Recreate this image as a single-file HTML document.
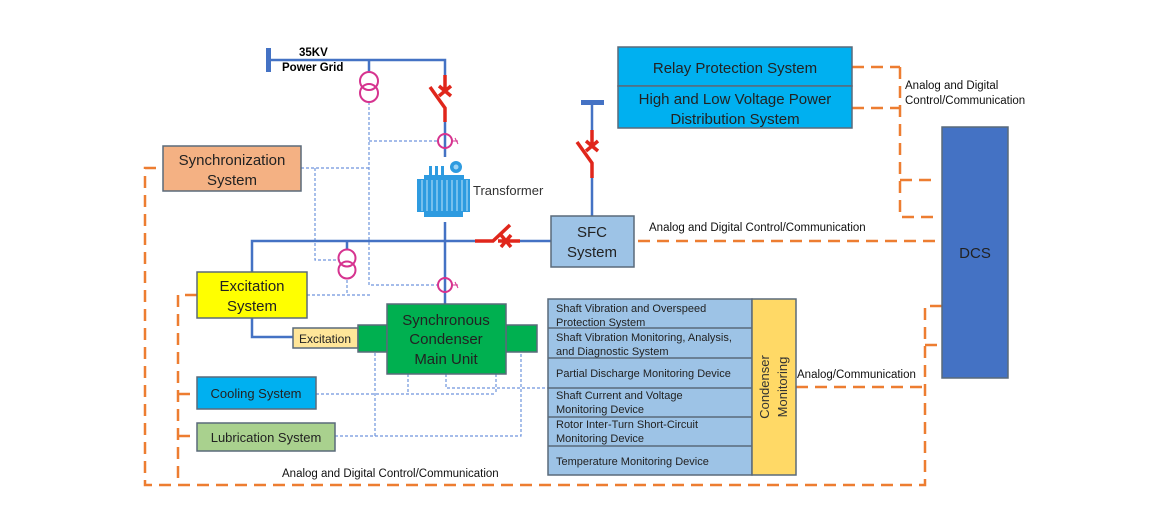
<!DOCTYPE html>
<html><head><style>
body{margin:0;background:#fff;}
svg{display:block;font-family:"Liberation Sans",sans-serif;}
</style></head><body>
<svg width="1162" height="513" viewBox="0 0 1162 513" xmlns="http://www.w3.org/2000/svg">
<rect width="1162" height="513" fill="#fff"/>
<!-- blue dashed signal lines -->
<g stroke="#6f95dd" stroke-width="1.2" stroke-dasharray="3,2" fill="none">
<path d="M301 168 H369"/>
<path d="M369 102 V285 H438"/>
<path d="M369 141 H438"/>
<path d="M315 168 V260 H340"/>
<path d="M307 295 H372"/>
<path d="M347 280 V295"/>
<path d="M316 394 H496"/>
<path d="M408 374 V394"/><path d="M496 374 V394"/>
<path d="M446 374 V388 H548"/>
<path d="M335 436 H375 V352"/>
<path d="M375 436 H521 V352"/>
</g>
<!-- orange dashed -->
<g stroke="#ED7D31" stroke-width="2.5" stroke-dasharray="12,7" fill="none">
<path d="M852 67 H900"/><path d="M852 108 H900"/>
<path d="M900 67 V217 H940"/><path d="M900 180 H936"/>
<path d="M638 241 H940"/>
<path d="M796 387 H925"/>
<path d="M942 306 H925 V485 H145 V168 H163"/>
<path d="M925 345 H942"/>
<path d="M197 295 H178 V485"/>
<path d="M178 394 H197"/><path d="M178 436 H197"/>
</g>
<!-- power lines blue -->
<g stroke="#4472C4" stroke-width="2.5" fill="none">
<path d="M268 60 H445 V75"/>
<path d="M369 60 V71"/>
<path d="M445 122 V157"/>
<path d="M445 222 V304"/>
<path d="M252 272 V241 H475"/>
<path d="M520 241 H551"/>
<path d="M347 241 V250"/>
<path d="M252 318 V337 H293"/>
<path d="M592 103 V130"/><path d="M592 178 V216"/>
</g>
<rect x="266" y="48" width="5" height="24" fill="#4472C4"/>
<rect x="581" y="100" width="23" height="5" fill="#4472C4"/>
<text x="299" y="56" font-size="11.5" font-weight="bold">35KV</text>
<text x="282" y="71" font-size="11.5" font-weight="bold">Power Grid</text>
<!-- PTs -->
<g stroke="#D6338F" stroke-width="2" fill="none">
<circle cx="369" cy="81" r="9"/><circle cx="369" cy="93" r="9"/>
<circle cx="347" cy="258" r="8.5"/><circle cx="347" cy="270" r="8.5"/>
<circle cx="445" cy="141" r="7"/><circle cx="445" cy="285" r="7"/>
<path d="M452 141 h6 M455 138 l3 6 M452 285 h6 M455 282 l3 6" stroke-width="1"/>
</g>
<!-- breakers red -->
<g stroke="#E0261B" stroke-width="3.5" fill="none">
<path d="M445 75 V93 M439 86 l12 10 M451 86 l-12 10"/>
<path d="M430 87 L445 108 V122"/>
<path d="M592 130 V148 M586 141 l12 10 M598 141 l-12 10"/>
<path d="M577 142 L592 163 V178"/>
<path d="M475 241 H493 L510 225 M520 241 H498 M501 235 l10 12 M511 235 l-10 12"/>
</g>
<!-- transformer -->
<g fill="#2E9BE0">
<rect x="429" y="166" width="3" height="9"/><rect x="435" y="166" width="3" height="9"/><rect x="441" y="166" width="3" height="9"/>
<circle cx="456" cy="167" r="6"/>
<rect x="424" y="175" width="40" height="4"/>
<rect x="417" y="179" width="53" height="33"/>
<rect x="424" y="212" width="39" height="5"/>
</g>
<circle cx="456" cy="167" r="2.5" fill="#9fd4f5"/>
<g stroke="#bfe3fa" stroke-width="1">
<path d="M422 180V211M427 180V211M432 180V211M437 180V211M442 180V211M447 180V211M452 180V211M457 180V211M462 180V211M467 180V211"/>
</g>
<text x="473" y="195" font-size="13" fill="#333">Transformer</text>
<!-- boxes -->
<g stroke="#5a6a7a" stroke-width="1.5">
<rect x="163" y="146" width="138" height="45" fill="#F4B183"/>
<rect x="197" y="272" width="110" height="46" fill="#FFFF00"/>
<rect x="293" y="328" width="65" height="20" fill="#FFE699"/>
<rect x="358" y="325" width="29" height="27" fill="#00B050"/>
<rect x="506" y="325" width="31" height="27" fill="#00B050"/>
<rect x="387" y="304" width="119" height="70" fill="#00B050"/>
<rect x="197" y="377" width="119" height="32" fill="#00B0F0"/>
<rect x="197" y="423" width="138" height="28" fill="#A9D18E"/>
<rect x="551" y="216" width="83" height="51" fill="#9DC3E6"/>
<rect x="618" y="47" width="234" height="39" fill="#00B0F0"/>
<rect x="618" y="86" width="234" height="42" fill="#00B0F0"/>
<rect x="942" y="127" width="66" height="251" fill="#4472C4"/>
<rect x="548" y="299" width="204" height="176" fill="#9DC3E6"/>
<rect x="752" y="299" width="44" height="176" fill="#FFD966"/>
<path d="M548 328H752M548 358H752M548 388H752M548 417H752M548 446H752" fill="none"/>
</g>
<g font-size="15" fill="#222" text-anchor="middle">
<text x="232" y="165">Synchronization</text><text x="232" y="185">System</text>
<text x="252" y="291">Excitation</text><text x="252" y="311">System</text>
<text x="446" y="325">Synchronous</text><text x="446" y="344">Condenser</text><text x="446" y="364">Main Unit</text>
<text x="592" y="237">SFC</text><text x="592" y="257">System</text>
<text x="735" y="73">Relay Protection System</text>
<text x="735" y="104">High and Low Voltage Power</text><text x="735" y="124">Distribution System</text>
<text x="975" y="258">DCS</text>
</g>
<g font-size="13" fill="#222" text-anchor="middle">
<text x="325" y="343" font-size="12">Excitation</text>
<text x="256" y="398">Cooling System</text>
<text x="266" y="442">Lubrication System</text>
</g>
<g font-size="11" fill="#222">
<text x="556" y="312">Shaft Vibration and Overspeed</text><text x="556" y="326">Protection System</text>
<text x="556" y="341">Shaft Vibration Monitoring, Analysis,</text><text x="556" y="355">and Diagnostic System</text>
<text x="556" y="377">Partial Discharge Monitoring Device</text>
<text x="556" y="399">Shaft Current and Voltage</text><text x="556" y="413">Monitoring Device</text>
<text x="556" y="428">Rotor Inter-Turn Short-Circuit</text><text x="556" y="442">Monitoring Device</text>
<text x="556" y="465">Temperature Monitoring Device</text>
</g>
<g font-size="13" fill="#333" text-anchor="middle">
<text transform="translate(769,387) rotate(-90)">Condenser</text>
<text transform="translate(787,387) rotate(-90)">Monitoring</text>
</g>
<g font-size="11.5" fill="#111">
<text x="905" y="89">Analog and Digital</text><text x="905" y="104">Control/Communication</text>
<text x="649" y="231">Analog and Digital Control/Communication</text>
<text x="797" y="378">Analog/Communication</text>
<text x="282" y="477">Analog and Digital Control/Communication</text>
</g>
</svg>
</body></html>
